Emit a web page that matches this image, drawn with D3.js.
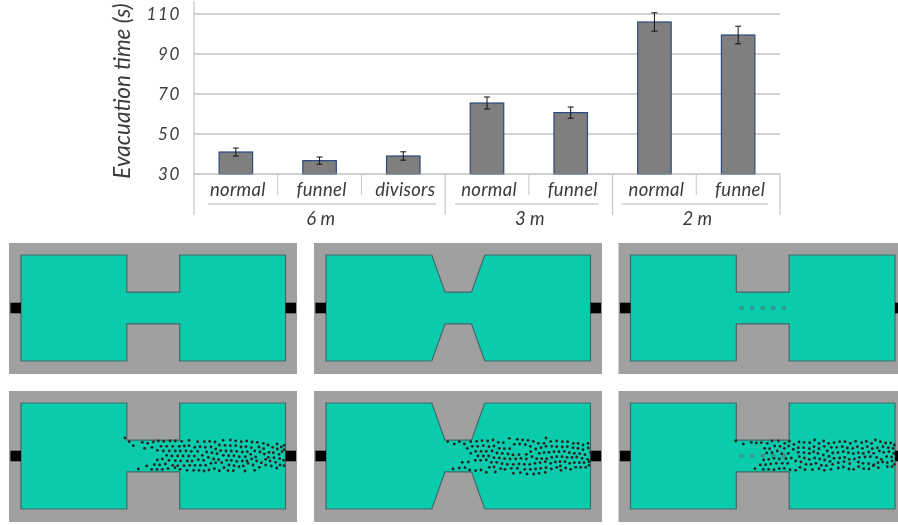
<!DOCTYPE html>
<html>
<head>
<meta charset="utf-8">
<script src="https://cdn.jsdelivr.net/npm/d3@7"></script>
<style>
  html, body { margin: 0; padding: 0; background: #fff; overflow: hidden; }
  svg { filter: blur(0.4px); }
  text { font-family: Lato, "Open Sans", sans-serif; font-style: italic; fill: #3a3a3a; }
</style>
</head>
<body>
<svg id="fig" width="898" height="525"></svg>
<script>
// bar chart values
const categories = ["normal", "funnel", "divisors", "normal", "funnel", "normal", "funnel"];
const widths = ["6 m", "6 m", "6 m", "3 m", "3 m", "2 m", "2 m"];
const widthLabels = ["6 m", "3 m", "2 m"];
const times = [41, 36.7, 39, 65.5, 60.7, 106, 99.5];
const errors = [2, 1.8, 2.1, 3, 2.8, 4.6, 4.4];
const yTicks = [30, 50, 70, 90, 110];

// floor plans, in metres (x along the building, y from the centre line)
const planNormal = [[0,10],[20,10],[20,3],[30,3],[30,10],[50,10],[50,-10],[30,-10],[30,-3],[20,-3],[20,-10],[0,-10]];
const planFunnel = [[0,10],[20,10],[22.5,3],[27.5,3],[30,10],[50,10],[50,-10],[30,-10],[27.5,-3],[22.5,-3],[20,-10],[0,-10]];
const plans = [planNormal, planFunnel, planNormal];
const divisorsX = [21, 23, 25, 27, 29];

// people, in 1/3 px of each crop
const crowdNormal = [[75,114],[88,125],[127,127],[143,130],[160,126],[175,123],[191,124],[210,123],[226,123],[245,124],[267,121],[293,125],[313,125],[329,124],[345,126],[369,121],[391,120],[407,123],[424,125],[440,123],[456,126],[472,127],[490,130],[504,135],[531,132],[553,136],
[100,137],[134,145],[156,142],[183,139],[200,139],[218,139],[238,139],[253,138],[267,137],[284,142],[300,140],[316,142],[333,141],[358,135],[375,136],[391,137],[407,137],[423,141],[438,140],[454,143],[477,141],[491,146],[518,142],[532,147],[544,141],[553,149],
[172,151],[190,153],[208,153],[226,153],[241,153],[258,153],[274,154],[293,154],[320,156],[336,158],[347,147],[362,152],[378,153],[394,153],[410,154],[427,156],[442,155],[464,153],[480,156],[493,162],[507,157],[520,158],[537,163],[546,155],
[200,166],[216,168],[233,168],[249,168],[266,168],[283,168],[307,166],[325,172],[351,161],[370,166],[386,167],[402,167],[418,170],[436,170],[452,163],[467,171],[505,172],[522,173],[539,176],[551,181],
[172,180],[187,177],[207,181],[226,182],[242,183],[262,183],[276,183],[295,179],[311,181],[341,177],[356,179],[380,181],[394,181],[410,184],[427,183],[441,183],[455,177],[470,183],[484,188],[497,178],[510,183],[527,187],
[140,198],[163,194],[179,195],[196,192],[218,196],[233,197],[252,197],[269,196],[285,196],[301,196],[317,196],[333,190],[347,188],[365,188],[387,195],[402,197],[417,200],[430,198],[444,190],[459,195],[478,202],[497,195],[514,198],[530,204],[540,195],[552,197],
[115,207],[155,208],[171,208],[187,208],[204,206],[225,203],[240,208],[261,211],[281,211],[297,211],[312,213],[327,210],[343,206],[358,212],[372,203],[384,212],[400,212],[435,213],[464,211]];

const crowdFunnel = [[83,125],[103,132],[118,125],[133,132],[152,125],[170,124],[186,122],[203,123],[219,120],[235,127],[250,128],[268,115],[292,118],[308,120],[324,121],[340,124],[355,130],[372,130],[378,114],[392,124],[410,123],[427,125],[443,125],[460,130],[474,130],[489,135],[504,130],
[142,145],[157,139],[173,139],[190,137],[207,140],[222,138],[238,145],[253,146],[269,146],[283,133],[299,132],[316,134],[331,139],[347,147],[363,143],[378,139],[395,139],[410,140],[427,141],[442,140],[459,143],[474,145],[489,149],[505,144],
[152,160],[167,154],[183,154],[199,154],[216,153],[231,159],[247,160],[264,162],[279,165],[297,164],[319,163],[332,155],[358,160],[372,158],[387,157],[402,155],[417,155],[433,154],[448,158],[463,160],[479,161],[495,164],[512,157],
[174,168],[190,168],[206,168],[222,173],[238,174],[254,176],[270,177],[287,177],[303,175],[319,177],[336,170],[350,176],[365,176],[380,176],[395,172],[410,170],[426,170],[441,172],[456,172],[470,171],[486,175],[503,178],
[127,187],[145,186],[166,181],[182,181],[199,180],[214,187],[230,187],[246,191],[262,193],[280,193],[297,192],[313,193],[329,193],[345,190],[360,188],[376,185],[392,190],[406,186],[420,185],[435,185],[449,190],[463,188],[478,188],[492,188],[507,185],
[99,207],[118,204],[135,203],[149,210],[167,212],[183,210],[199,217],[208,202],[226,216],[222,201],[242,206],[255,208],[274,205],[280,220],[292,205],[301,218],[314,208],[321,222],[331,208],[341,222],[347,207],[357,220],[362,205],[376,217],[378,203],[394,207],[410,202],[423,211],[421,198],[437,204],[452,208],[467,202],[482,202],[497,202],[507,196]];

const crowdDivisors = [[53,123],[76,132],[100,127],[115,129],[130,128],[148,130],[162,123],[181,123],[200,130],[214,124],[228,133],[243,126],[258,127],[275,128],[290,120],[303,130],[317,123],[332,130],[348,128],[365,125],[381,125],[397,130],[413,124],[431,128],[445,124],[461,130],[472,120],[487,125],[503,129],[518,129],[529,135],
[140,145],[155,146],[170,138],[186,139],[199,145],[212,138],[226,148],[241,143],[257,143],[274,146],[288,140],[303,146],[319,139],[340,142],[356,142],[373,140],[388,144],[404,145],[418,140],[433,145],[448,140],[463,146],[478,143],[495,140],[511,143],[525,145],
[146,159],[162,158],[178,153],[191,161],[211,160],[241,157],[258,158],[274,160],[287,155],[300,160],[316,165],[328,153],[344,159],[360,158],[376,155],[391,158],[406,161],[421,158],[436,160],[452,156],[467,160],[484,153],[497,157],[513,155],[527,160],
[168,175],[152,178],[137,180],[184,177],[204,176],[220,174],[244,170],[259,174],[274,178],[290,174],[305,177],[320,180],[333,169],[348,175],[365,174],[380,172],[394,178],[409,177],[424,172],[441,171],[457,170],[476,172],[490,178],[506,170],[521,171],
[127,195],[143,194],[158,192],[175,190],[193,190],[209,190],[233,183],[249,186],[264,193],[279,193],[294,190],[310,196],[325,197],[336,184],[344,193],[361,188],[378,185],[395,191],[421,186],[435,190],[452,191],[466,197],[480,188],[494,186],[508,188],[522,183],[529,193],
[111,206],[136,208],[152,208],[168,209],[184,206],[199,205],[216,209],[233,211],[246,202],[261,209],[283,209],[303,206],[319,211],[339,208],[361,204],[376,201],[393,207],[407,208],[422,200],[437,206],[453,207],[468,194],[481,203],[508,200],[522,200]];
const crowds = [crowdNormal, crowdFunnel, crowdDivisors];

const svg = d3.select("#fig");

//chart
const x = d3.scaleBand()
    .domain(d3.range(categories.length))
    .range([194, 780])
    .paddingInner(0.6)
    .paddingOuter(0.3);
const y = d3.scaleLinear().domain([30, 110]).range([174, 14]);
const step = x.step();
const left = x.range()[0];

const chart = svg.append("g");

// gridlines
chart.selectAll(".grid")
  .data(yTicks.slice(1))
  .enter().append("line")
    .attr("x1", left).attr("x2", 780)
    .attr("y1", d => y(d)).attr("y2", d => y(d))
    .attr("stroke", "#a6a6a6").attr("stroke-width", 1.1);

// y axis
const yAxis = chart.append("g")
    .attr("transform", "translate(" + left + ",0)")
    .call(d3.axisLeft(y).tickValues(yTicks).tickSize(0).tickPadding(13));
yAxis.select(".domain").remove();
yAxis.selectAll("text")
    .style("font-size", "17px")
    .style("letter-spacing", "1.6px")
    .style("font-family", "Lato");

chart.append("text")
    .attr("transform", "translate(130,91) rotate(-90)")
    .attr("text-anchor", "middle")
    .style("font-size", "22.5px")
    .text("Evacuation time (s)");

// bars
chart.selectAll(".bar")
  .data(times)
  .enter().append("rect")
    .attr("x", (d, i) => x(i))
    .attr("y", d => y(d))
    .attr("width", x.bandwidth())
    .attr("height", d => y(30) - y(d))
    .attr("fill", "#7f7f7f")
    .attr("stroke", "#2c4a80")
    .attr("stroke-width", 1.2);

// error bars
const whisker = chart.selectAll(".err")
  .data(times)
  .enter().append("g")
    .attr("transform", (d, i) => "translate(" + (x(i) + x.bandwidth() / 2) + ",0)")
    .attr("stroke", "#111").attr("stroke-width", 1);
whisker.append("line")
    .attr("y1", (d, i) => y(d + errors[i])).attr("y2", (d, i) => y(d - errors[i]));
whisker.append("line")
    .attr("x1", -3).attr("x2", 3)
    .attr("y1", (d, i) => y(d + errors[i])).attr("y2", (d, i) => y(d + errors[i]));
whisker.append("line")
    .attr("x1", -3).attr("x2", 3)
    .attr("y1", (d, i) => y(d - errors[i])).attr("y2", (d, i) => y(d - errors[i]));

// axis lines and multi level categories
chart.append("line")
    .attr("x1", left).attr("x2", left).attr("y1", 1).attr("y2", 215)
    .attr("stroke", "#bdbdbd");
chart.append("line")
    .attr("x1", left).attr("x2", 780).attr("y1", y(30)).attr("y2", y(30))
    .attr("stroke", "#a0a0a0");

chart.selectAll(".cat")
  .data(categories)
  .enter().append("text")
    .attr("x", (d, i) => x(i) + x.bandwidth() / 2 + 2)
    .attr("y", 196)
    .attr("text-anchor", "middle")
    .style("font-size", "18.5px")
    .style("letter-spacing", "0.3px")
    .text(d => d);

const underlineInset = [[14, 9], [10, 14], [9, 12]];
widthLabels.forEach(function(w, k) {
  const first = widths.indexOf(w), last = widths.lastIndexOf(w);
  const x0 = left + first * step, x1 = left + (last + 1) * step;
  chart.append("line")
      .attr("x1", x1).attr("x2", x1).attr("y1", y(30)).attr("y2", 215)
      .attr("stroke", "#bdbdbd");
  chart.append("line")
      .attr("x1", x0 + underlineInset[k][0]).attr("x2", x1 - underlineInset[k][1])
      .attr("y1", 204).attr("y2", 204)
      .attr("stroke", "#b5b5b5");
  for (let i = first + 1; i <= last; i++) {
    chart.append("line")
        .attr("x1", left + i * step).attr("x2", left + i * step)
        .attr("y1", y(30)).attr("y2", 195)
        .attr("stroke", "#c8c8c8");
  }
  chart.append("text")
      .attr("x", (x0 + x1) / 2 + 1)
      .attr("y", 225)
      .attr("text-anchor", "middle")
      .style("font-size", "18.5px")
      .text(w);
});

//floor panels
const roomLeft = [21, 326, 630.5];
const rowCentre = [308, 456];
const cropLeft = [100, 420, 718];

function drawPanel(col, row) {
  const fx = d3.scaleLinear().domain([0, 50]).range([roomLeft[col], roomLeft[col] + 264.5]);
  const fy = d3.scaleLinear().domain([-10, 10]).range([rowCentre[row] + 53, rowCentre[row] - 53]);
  const g = svg.append("g");

  g.append("rect")
      .attr("x", fx(0) - 12).attr("y", fy(10) - 12)
      .attr("width", 288).attr("height", 131)
      .attr("fill", "#a0a0a0");

  g.append("path")
      .attr("d", d3.line().x(d => fx(d[0])).y(d => fy(d[1]))(plans[col]) + "Z")
      .attr("fill", "#0bcbad")
      .attr("stroke", "#45686a")
      .attr("stroke-width", 1.2);

  // exits
  [[-2, 0], [50, 52]].forEach(function(e) {
    g.append("rect")
        .attr("x", fx(e[0])).attr("y", fy(1))
        .attr("width", fx(e[1]) - fx(e[0])).attr("height", fy(-1) - fy(1))
        .attr("fill", "#000");
  });

  if (col == 2) {
    g.selectAll(".divisor")
      .data(divisorsX)
      .enter().append("circle")
        .attr("cx", d => fx(d)).attr("cy", fy(0)).attr("r", 1.6)
        .attr("fill", "none")
        .attr("stroke", "#566e6e").attr("stroke-width", 1);
  }

  if (row == 1) {
    const cx = d3.scaleLinear().domain([0, 600]).range([cropLeft[col], cropLeft[col] + 200]);
    const cy = d3.scaleLinear().domain([0, 300]).range([400, 500]);
    g.selectAll(".person")
      .data(crowds[col])
      .enter().append("circle")
        .attr("cx", d => cx(d[0])).attr("cy", d => cy(d[1])).attr("r", 1.4)
        .attr("fill", "#2a2420");
  }
}

[0, 1].forEach(function(row) {
  [0, 1, 2].forEach(function(col) { drawPanel(col, row); });
});
</script>
</body>
</html>
